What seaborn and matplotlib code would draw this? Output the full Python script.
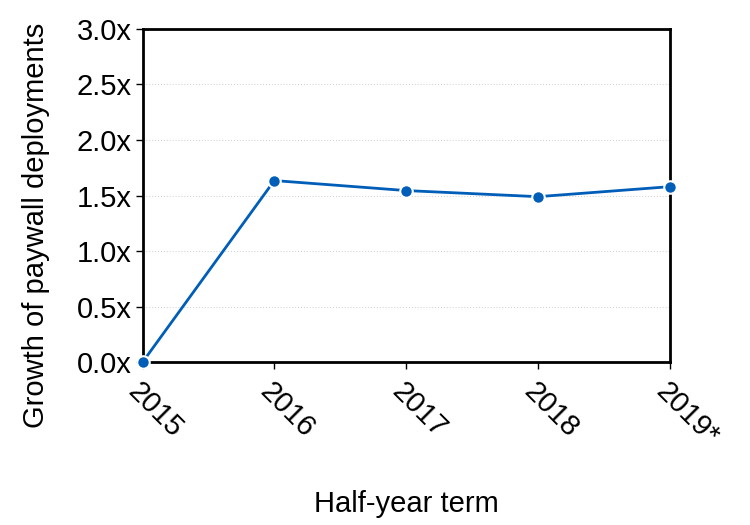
import numpy as np
import pandas as pd
import matplotlib
matplotlib.use('Agg')
import matplotlib.pyplot as plt
import matplotlib.transforms as mtransforms
import seaborn as sns

terms = ['2015', '2016', '2017', '2018', '2019*']
growth = [0.0, 1.635, 1.545, 1.49, 1.58]
yticks = [0.0, 0.5, 1.0, 1.5, 2.0, 2.5, 3.0]

df = pd.DataFrame({'pos': range(len(terms)), 'growth': growth})

sns.set_style('white')
plt.rcParams['font.family'] = ['Liberation Sans', 'DejaVu Sans']
plt.rcParams['text.color'] = 'black'
plt.rcParams['axes.labelcolor'] = 'black'
plt.rcParams['xtick.color'] = 'black'
plt.rcParams['ytick.color'] = 'black'

fig, ax = plt.subplots(figsize=(7.5, 5.25), dpi=100)
fig.subplots_adjust(left=0.19, right=0.893, top=0.945, bottom=0.31)

sns.lineplot(data=df, x='pos', y='growth', color='#005eb8', linewidth=2,
             marker='o', markersize=9, markeredgecolor='white', markeredgewidth=1.5,
             clip_on=False, zorder=5, ax=ax)

ax.set_xlim(0, len(terms) - 1)
ax.set_ylim(0, 3)
ax.set_xticks(range(len(terms)))
ax.set_xticklabels(terms, rotation=-45, ha='left', rotation_mode='anchor', fontsize=21)
# nudge the rotated year labels a little to the right
shift = mtransforms.ScaledTranslation(6 / 72, 0, fig.dpi_scale_trans)
for lbl in ax.get_xticklabels():
    lbl.set_transform(lbl.get_transform() + shift)
ax.set_yticks(yticks)
ax.set_yticklabels([f'{v:.1f}x' for v in yticks], fontsize=21)
ax.grid(axis='y', linestyle=(0, (1, 2)), color='#cccccc', linewidth=0.7)
ax.tick_params(direction='out', length=5, width=1, left=True, bottom=True, pad=3)
ax.tick_params(axis='x', pad=6)
for s in ax.spines.values():
    s.set_visible(True)
    s.set_color('black')
    s.set_linewidth(2)

ax.set_xlabel('Half-year term', fontsize=21, labelpad=28)
ax.set_ylabel('Growth of paywall deployments', fontsize=21)
ax.yaxis.set_label_coords(-0.176, 0.41)

fig.savefig('out.png', dpi=100)
